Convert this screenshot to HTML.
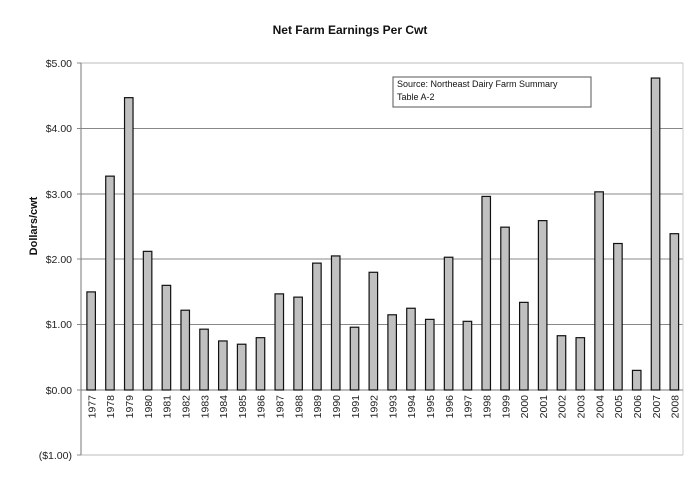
<!DOCTYPE html>
<html><head><style>
html,body{margin:0;padding:0;background:#fff;}
svg{display:block;font-family:"Liberation Sans",Arial,sans-serif;}
</style></head><body>
<svg width="700" height="483" viewBox="0 0 700 483">
<rect width="700" height="483" fill="#fff"/>
<text x="350" y="34" text-anchor="middle" font-size="12" font-weight="bold" fill="#111">Net Farm Earnings Per Cwt</text>
<text transform="translate(37,226) rotate(-90)" text-anchor="middle" font-size="11" font-weight="bold" fill="#111">Dollars/cwt</text>
<g stroke="#888" stroke-width="1">
<line x1="81" y1="63" x2="683" y2="63" stroke="#bbb"/>
<line x1="81" y1="128.5" x2="683" y2="128.5"/>
<line x1="81" y1="194" x2="683" y2="194"/>
<line x1="81" y1="259" x2="683" y2="259"/>
<line x1="81" y1="324.5" x2="683" y2="324.5"/>
<line x1="81" y1="455" x2="683" y2="455" stroke="#bbb"/>
<line x1="683" y1="63" x2="683" y2="455" stroke="#ccc"/>
<line x1="81" y1="63" x2="81" y2="455" stroke="#777"/>
<line x1="81" y1="390" x2="683" y2="390" stroke="#777"/>
<line x1="77" y1="63" x2="81" y2="63"/><line x1="77" y1="128.5" x2="81" y2="128.5"/><line x1="77" y1="194" x2="81" y2="194"/><line x1="77" y1="259" x2="81" y2="259"/><line x1="77" y1="324.5" x2="81" y2="324.5"/><line x1="77" y1="390" x2="81" y2="390"/><line x1="77" y1="455" x2="81" y2="455"/>
</g>
<g font-size="10.5" fill="#222" text-anchor="end">
<text x="72" y="67">$5.00</text><text x="72" y="132">$4.00</text><text x="72" y="198">$3.00</text><text x="72" y="263">$2.00</text><text x="72" y="328">$1.00</text><text x="72" y="394">$0.00</text><text x="72" y="459">($1.00)</text>
</g>
<rect x="393" y="77" width="198" height="30" fill="#fff" stroke="#555"/>
<text x="397" y="87" font-size="9" fill="#111">Source:  Northeast Dairy Farm Summary</text>
<text x="397" y="100" font-size="9" fill="#111">Table A-2</text>
<g id="bars"></g>
<g id="labels" font-size="10.5" fill="#222"></g>
<script>
var v=[1.50,3.27,4.47,2.12,1.60,1.22,0.93,0.75,0.70,0.80,1.47,1.42,1.94,2.05,0.96,1.80,1.15,1.25,1.08,2.03,1.05,2.96,2.49,1.34,2.59,0.83,0.80,3.03,2.24,0.30,4.77,2.39];
var ns="http://www.w3.org/2000/svg",b=document.getElementById("bars"),l=document.getElementById("labels");
var w=(683-81)/32;
for(var i=0;i<32;i++){var cx=81+w*(i+0.5)+1;var h=v[i]*65.4;
var r=document.createElementNS(ns,"rect");r.setAttribute("x",cx-4.5);r.setAttribute("y",390-h);r.setAttribute("width",8.5);r.setAttribute("height",h);r.setAttribute("fill","#c0c0c0");r.setAttribute("stroke","#111");r.setAttribute("stroke-width","1.2");b.appendChild(r);
var t=document.createElementNS(ns,"text");t.setAttribute("transform","translate("+(cx+4)+",395) rotate(-90)");t.setAttribute("text-anchor","end");t.textContent=1977+i;l.appendChild(t);}
</script>
</svg>
</body></html>
